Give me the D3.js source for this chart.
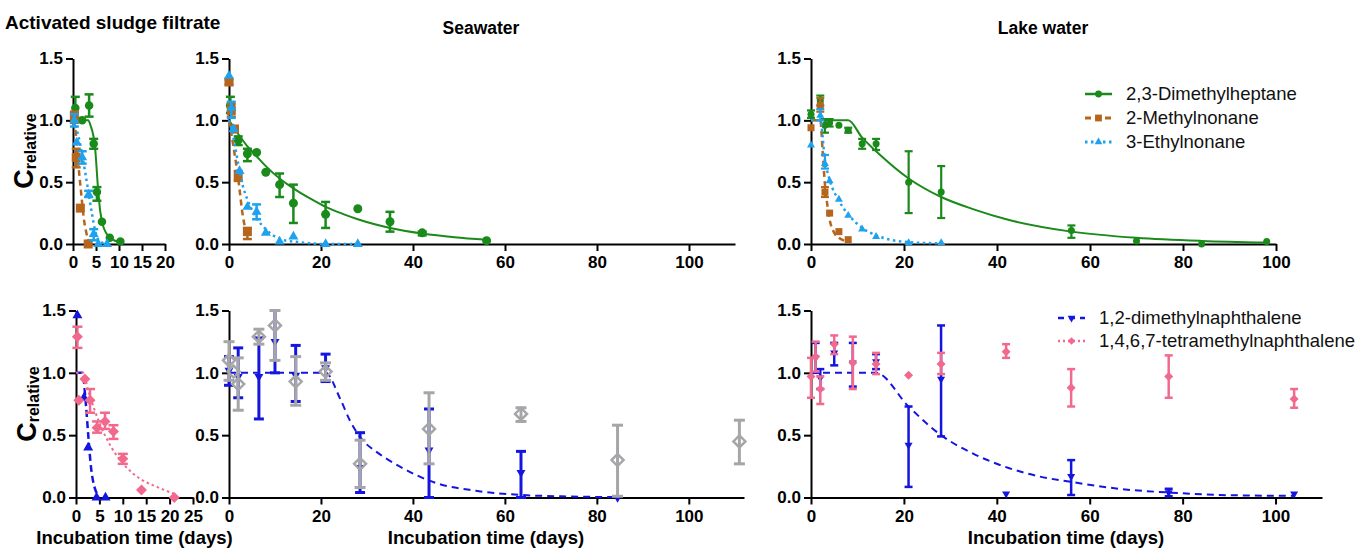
<!DOCTYPE html>
<html>
<head>
<meta charset="utf-8">
<script src="https://cdnjs.cloudflare.com/ajax/libs/d3/7.8.5/d3.min.js"></script>
<style>
  body { margin: 0; background: #fff; }
  svg { display: block; }
</style>
</head>
<body>
<svg width="1358" height="553"></svg>
<script>
// rows are [day, mean, lower, upper]; lower/upper missing = no error bar
// fits are [day, value]

// activated sludge, alkanes
const sludgeDMH = [[0.5, 1.10, 1.02, 1.19], [2, 1.00], [3.5, 1.12, 1.03, 1.21], [4.5, 0.81, 0.77, 0.85],
  [5.2, 0.42, 0.35, 0.46], [6.3, 0.18], [8, 0.05], [10.3, 0.02]];
const sludgeMN = [[0.3, 1.03, 0.98, 1.07], [0.7, 0.70, 0.62, 0.77], [1.6, 0.29], [3.3, 0.0]];
const sludgeEN = [[0.3, 1.00, 0.95, 1.05], [0.8, 0.82], [2, 0.70, 0.65, 0.75], [3.4, 0.40, 0.38, 0.43],
  [4.5, 0.08, 0.03, 0.12], [5.5, 0.0], [7.4, 0.0]];
const sludgeDMHFit = [[0, 1], [3.3, 1], [3.8, 0.96], [4.8, 0.78], [5.4, 0.47], [5.9, 0.27], [6.6, 0.14], [8.1, 0.05], [10.3, 0.012]];
const sludgeMNFit = [[0, 1], [0.5, 0.93], [0.8, 0.82], [1.2, 0.63], [1.7, 0.44], [2.3, 0.22], [2.9, 0.09], [3.4, 0.02]];
const sludgeENFit = [[0, 1], [1.2, 0.87], [1.95, 0.73], [2.7, 0.57], [3.4, 0.41], [4.1, 0.25], [4.8, 0.11], [5.9, 0.02], [7.4, 0.0]];

// seawater, alkanes
const seaDMH = [[0.3, 1.12, 1.06, 1.19], [2, 0.84, 0.80, 0.87], [4, 0.73, 0.67, 0.77], [6, 0.74], [8, 0.58],
  [11, 0.48, 0.38, 0.57], [14, 0.33, 0.17, 0.48], [21, 0.24, 0.13, 0.34], [28, 0.285],
  [35, 0.18, 0.10, 0.26], [42, 0.09, 0.07, 0.10], [56, 0.027]];
const seaMN = [[0, 1.31, 1.29, 1.33], [0.5, 1.08, 1.03, 1.13], [1.2, 0.93], [2, 0.55, 0.51, 0.59], [4, 0.10, 0.04, 0.13]];
const seaEN = [[0, 1.36], [0.5, 1.10, 1.02, 1.15], [1, 0.93], [2.3, 0.59], [4, 0.30], [6, 0.26, 0.20, 0.32],
  [8, 0.09], [11, 0.02], [14, 0.06], [21, 0.0], [28, 0.0]];
const seaDMHFit = [[0, 1], [2, 0.89], [4, 0.79], [6, 0.71], [8, 0.63], [11, 0.53], [14, 0.45], [18, 0.36], [21, 0.30],
  [25, 0.24], [28, 0.20], [35, 0.13], [42, 0.085], [49, 0.055], [56, 0.035]];
const seaMNFit = [[0, 1], [1, 0.78], [2, 0.53], [3, 0.23], [4, 0.06]];
const seaENFit = [[0, 1], [1, 0.85], [2, 0.65], [3, 0.47], [4, 0.36], [6, 0.21], [8, 0.12], [10, 0.06], [12, 0.03],
  [14, 0.02], [21, 0.0], [28, 0.0]];

// lake water, alkanes
const lakeDMH = [[0, 1.05, 1.02, 1.08], [2, 1.16, 1.12, 1.20], [3, 0.96, 0.90, 1.01], [4, 0.98, 0.95, 1.01], [6, 0.96],
  [8, 0.92, 0.90, 0.94], [11, 0.81, 0.77, 0.85], [14, 0.81, 0.76, 0.85], [21, 0.50, 0.25, 0.75],
  [28, 0.42, 0.21, 0.63], [56, 0.11, 0.05, 0.15], [70, 0.025], [84, 0.0], [98, 0.02]];
const lakeMN = [[0, 0.94], [2, 1.12, 1.07, 1.18], [3, 0.42, 0.38, 0.46], [4, 0.25], [6, 0.10], [8, 0.035]];
const lakeEN = [[0, 0.80], [2, 1.04, 1.00, 1.09], [3, 0.65, 0.61, 0.72], [4, 0.51], [6, 0.36], [8, 0.23],
  [11, 0.12], [14, 0.06], [21, 0.01], [28, 0.01]];
const lakeDMHFit = [[0, 1], [8, 1], [11, 0.86], [14, 0.75], [21, 0.53], [28, 0.38], [35, 0.28], [42, 0.20],
  [56, 0.10], [70, 0.05], [84, 0.025], [98, 0.012]];
const lakeMNFit = [[0, 1], [2, 1], [2.5, 0.75], [3, 0.48], [3.5, 0.32], [4, 0.2], [5, 0.09], [6, 0.05], [8, 0.02]];
const lakeENFit = [[0, 1], [2, 1], [3, 0.68], [4, 0.52], [6, 0.35], [8, 0.24], [11, 0.13], [14, 0.07], [21, 0.015], [28, 0.005]];

// activated sludge, naphthalenes
const sludgeDMN = [[0.3, 1.46], [1.7, 0.80], [2.6, 0.40], [4.4, 0.0], [6.3, 0.0]];
const sludgeTMN = [[0.3, 1.29, 1.20, 1.37], [0.6, 0.78], [1.9, 0.95], [3, 0.78, 0.68, 0.87], [4.5, 0.56, 0.52, 0.61],
  [6.2, 0.61, 0.55, 0.68], [8, 0.53, 0.47, 0.58], [10, 0.31, 0.27, 0.35], [14, 0.06], [21, 0.0]];
const sludgeDMNFit = [[0, 1], [1.4, 1], [2, 0.80], [2.6, 0.51], [3.1, 0.28], [3.9, 0.09], [5, 0.01]];
const sludgeTMNFit = [[0, 1], [1.5, 1], [2.6, 0.86], [5.1, 0.59], [7.6, 0.40], [10.1, 0.27], [13.7, 0.15], [17.3, 0.085], [20.9, 0.03]];

// seawater, naphthalenes
const seaDMN = [[0, 1.02, 0.90, 1.13], [2, 0.97, 0.80, 1.20], [6.5, 0.97, 0.63, 1.28], [10, 1.25, 1.0, 1.5],
  [14.5, 0.98, 0.77, 1.22], [21, 1.04, 0.93, 1.15], [28.5, 0.24, 0.04, 0.52], [43.5, 0.38, 0.0, 0.71],
  [63.5, 0.20, 0.0, 0.37], [84.5, 0.0]];
const seaTMN = [[0, 1.10, 0.94, 1.25], [1, 1.01], [2, 0.91, 0.70, 1.12], [6.5, 1.29, 1.23, 1.35], [10, 1.38, 1.10, 1.50],
  [14.5, 0.93, 0.74, 1.13], [21, 1.01, 0.94, 1.08], [28.5, 0.27, 0.08, 0.46], [43.5, 0.55, 0.27, 0.84],
  [63.5, 0.67, 0.61, 0.72], [84.5, 0.30, 0.01, 0.58], [111, 0.45, 0.27, 0.62]];
const seaDMNFit = [[0, 1], [21, 1], [24.2, 0.79], [26.4, 0.61], [28.6, 0.48], [32.3, 0.36], [36.6, 0.26], [41, 0.175],
  [44.7, 0.12], [53.7, 0.054], [63.7, 0.02], [74.5, 0.008], [84.6, 0.003]];

// lake water, naphthalenes
const lakeDMN = [[1, 1.12, 1.0, 1.24], [2, 0.96, 0.87, 1.03], [5, 1.16, 1.06, 1.24], [9, 1.08, 0.89, 1.24],
  [14, 1.09, 1.03, 1.15], [21, 0.42, 0.085, 0.73], [28, 0.95, 0.49, 1.38], [42, 0.03], [56, 0.17, 0.02, 0.30],
  [77, 0.04, 0.01, 0.07], [104, 0.03]];
const lakeTMN = [[0, 0.97, 0.80, 1.12], [1, 1.13, 1.01, 1.25], [2, 0.87, 0.75, 0.97], [5, 1.23, 1.15, 1.30],
  [9, 1.08, 0.87, 1.29], [14, 1.07, 0.99, 1.16], [21, 0.98], [28, 1.07, 0.99, 1.16], [42, 1.17, 1.12, 1.23],
  [56, 0.88, 0.73, 1.03], [77, 0.97, 0.80, 1.14], [104, 0.79, 0.72, 0.87]];
const lakeDMNFit = [[0, 1], [14, 1], [21, 0.73], [28, 0.50], [35, 0.35], [41.5, 0.25], [49, 0.17], [56, 0.125],
  [67, 0.067], [77, 0.04], [88, 0.02], [104, 0.013]];

const yTicks = [0, 0.5, 1.0, 1.5];
const sludgeTopTicks = [0, 5, 10, 15, 20];
const sludgeBottomTicks = [0, 5, 10, 15, 20, 25];
const longTicks = [0, 20, 40, 60, 80, 100];

const alkaneNames = ["2,3-Dimethylheptane", "2-Methylnonane", "3-Ethylnonane"];
const aromaticNames = ["1,2-dimethylnaphthalene", "1,4,6,7-tetramethylnaphthalene"];

const FONT = 'Arial, "Liberation Sans", sans-serif';
const green = "#1a8a1a", brown = "#b5661c", sky = "#1fa2ee", blue = "#1515e0", pink = "#f2698e", grey = "#a6a6a9";

const svg = d3.select("svg").attr("font-family", FONT);

// one panel: scales + black GraphPad style axes
function panel(x0, x1, xmax, xticks, yBase, yTop) {
  const x = d3.scaleLinear().domain([0, xmax]).range([x0, x1]);
  const y = d3.scaleLinear().domain([0, 1.5]).range([yBase, yTop]);
  const ax = svg.append("g");
  ax.append("g").attr("transform", `translate(0,${yBase})`)
    .call(d3.axisBottom(x).tickValues(xticks).tickSize(7).tickPadding(5).tickSizeOuter(0));
  ax.append("g").attr("transform", `translate(${x0},0)`)
    .call(d3.axisLeft(y).tickValues(yTicks).tickFormat(d3.format(".1f")).tickSize(7).tickPadding(3).tickSizeOuter(0));
  ax.selectAll("g").attr("font-family", FONT).attr("font-size", 17);
  ax.selectAll(".domain, .tick line").attr("stroke", "#000").attr("stroke-width", 2);
  ax.selectAll(".tick text").attr("font-weight", "bold").attr("fill", "#000");
  const plot = svg.append("g");
  return { x, y, plot };
}

function symbolPath(shape, s) {
  if (shape === "circle") return d3.symbol(d3.symbolCircle, Math.PI * s * s / 4)();
  if (shape === "square") return d3.symbol(d3.symbolSquare, s * s)();
  if (shape === "up" || shape === "down") return d3.symbol(d3.symbolTriangle, Math.sqrt(3) / 4 * s * s)();
  const h = s / 2;
  return `M0,${-h}L${h},0L0,${h}L${-h},0Z`;
}

function marker(g, cx, cy, st) {
  g.append("path")
    .attr("d", symbolPath(st.shape, st.size))
    .attr("transform", `translate(${cx},${cy})` + (st.shape === "down" ? " rotate(180)" : ""))
    .attr("fill", st.open ? "none" : st.color)
    .attr("stroke", st.open ? st.color : "none")
    .attr("stroke-width", st.open ? 2.5 : 0);
}

function series(p, pts, fit, st) {
  if (fit) {
    const line = d3.line().x(d => p.x(d[0])).y(d => p.y(d[1])).curve(d3.curveMonotoneX);
    p.plot.append("path").attr("d", line(fit))
      .attr("fill", "none").attr("stroke", st.color).attr("stroke-width", st.lw)
      .attr("stroke-dasharray", st.dash);
  }
  const eb = p.plot.append("g").attr("stroke", st.color).attr("stroke-width", st.bw);
  pts.filter(d => d.length > 2).forEach(d => {
    const cx = p.x(d[0]), lo = p.y(d[2]), hi = p.y(d[3]), w = st.cap / 2;
    eb.append("line").attr("x1", cx).attr("x2", cx).attr("y1", lo).attr("y2", hi);
    eb.append("line").attr("x1", cx - w).attr("x2", cx + w).attr("y1", lo).attr("y2", lo);
    eb.append("line").attr("x1", cx - w).attr("x2", cx + w).attr("y1", hi).attr("y2", hi);
  });
  pts.forEach(d => marker(p.plot, p.x(d[0]), p.y(d[1]), st));
}

function legend(names, styles, x0, y0, dy) {
  names.forEach((name, i) => {
    const st = styles[i], y = y0 + i * dy;
    svg.append("line").attr("x1", x0).attr("x2", x0 + 27).attr("y1", y).attr("y2", y)
      .attr("stroke", st.color).attr("stroke-width", st.lw + 0.5).attr("stroke-dasharray", st.dash);
    marker(svg, x0 + 13.5, y, { ...st, size: st.size * 0.85 });
    svg.append("text").attr("x", x0 + 41).attr("y", y).attr("dy", "0.35em")
      .attr("font-size", 18.5).attr("fill", "#111").text(name);
  });
}

function yLabel(cx, cy) {
  const t = svg.append("text").attr("transform", `translate(${cx},${cy}) rotate(-90)`)
    .attr("text-anchor", "middle").attr("font-weight", "bold").attr("fill", "#000");
  t.append("tspan").attr("font-size", 27).text("C");
  t.append("tspan").attr("font-size", 16).attr("dy", 3).text("relative");
}

function heading(x, y, txt, anchor, size) {
  svg.append("text").attr("x", x).attr("y", y).attr("text-anchor", anchor)
    .attr("font-size", size).attr("font-weight", "bold").attr("fill", "#000").text(txt);
}

// styles
const stDMH = { color: green, shape: "circle", lw: 2, dash: null, bw: 2.5, cap: 9 };
const stMN = { color: brown, shape: "square", lw: 2.5, dash: "6,4", bw: 2.5, cap: 9 };
const stEN = { color: sky, shape: "up", lw: 2.5, dash: "2.5,3.5", bw: 2.5, cap: 9 };

// top row
const pA = panel(73, 165, 20, sludgeTopTicks, 244, 58.5);
series(pA, sludgeDMH, sludgeDMHFit, { ...stDMH, size: 8.5 });
series(pA, sludgeMN, sludgeMNFit, { ...stMN, size: 9 });
series(pA, sludgeEN, sludgeENFit, { ...stEN, size: 10 });

const pB = panel(229, 735, 110, longTicks, 244, 58.5);
series(pB, seaDMH, seaDMHFit, { ...stDMH, size: 9 });
series(pB, seaMN, seaMNFit, { ...stMN, size: 9 });
series(pB, seaEN, seaENFit, { ...stEN, size: 10 });

const pC = panel(811, 1276, 100, longTicks, 244, 58.5);
series(pC, lakeDMH, lakeDMHFit, { ...stDMH, size: 7, bw: 2.2, cap: 8 });
series(pC, lakeMN, lakeMNFit, { ...stMN, size: 7, bw: 2.2, cap: 8 });
series(pC, lakeEN, lakeENFit, { ...stEN, size: 8, bw: 2.2, cap: 8 });

// bottom row
const pD = panel(76, 193, 25, sludgeBottomTicks, 497.5, 310.5);
series(pD, sludgeDMN, sludgeDMNFit, { color: blue, shape: "up", size: 10, lw: 2.5, dash: "7,4", bw: 2.5, cap: 9 });
series(pD, sludgeTMN, sludgeTMNFit, { color: pink, shape: "diamond", size: 11, lw: 2, dash: "2.5,3", bw: 2.5, cap: 10 });

const pE = panel(229, 744, 112, longTicks, 497.5, 310.5);
series(pE, seaDMN, seaDMNFit, { color: blue, shape: "down", size: 9, lw: 2, dash: "7,5", bw: 3, cap: 10 });
series(pE, seaTMN, null, { color: grey, shape: "diamond", open: true, size: 12, bw: 3, cap: 11 });

const pF = panel(811, 1322, 110, longTicks, 497.5, 310.5);
series(pF, lakeDMN, lakeDMNFit, { color: blue, shape: "down", size: 8, lw: 2, dash: "7,5", bw: 2.5, cap: 8 });
series(pF, lakeTMN, null, { color: pink, shape: "diamond", size: 9, bw: 2.5, cap: 8 });

// legends
legend(alkaneNames, [{ ...stDMH, size: 8 }, { ...stMN, size: 8 }, { ...stEN, size: 9 }], 1085, 94, 24);
legend(aromaticNames, [
  { color: blue, shape: "down", size: 9, lw: 2, dash: "6,5" },
  { color: pink, shape: "diamond", size: 9, lw: 2, dash: "2,3" }
], 1058, 318, 23);

// titles
heading(5, 29, "Activated sludge filtrate", "start", 19);
heading(481, 34, "Seawater", "middle", 17.5);
heading(1043, 34, "Lake water", "middle", 17.5);
yLabel(33, 151);
yLabel(36, 404);
heading(134.5, 544, "Incubation time (days)", "middle", 18.5);
heading(486, 544, "Incubation time (days)", "middle", 18.5);
heading(1066, 544, "Incubation time (days)", "middle", 18.5);
</script>
</body>
</html>
